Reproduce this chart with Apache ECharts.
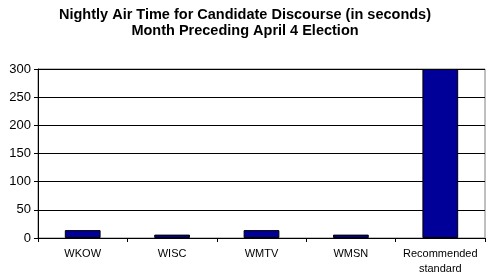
<!DOCTYPE html>
<html><head><meta charset="utf-8">
<script src="https://cdn.jsdelivr.net/npm/echarts@6/dist/echarts.min.js"></script>
<style>html,body{margin:0;padding:0;background:#fff}#c{width:490px;height:280px}</style>
</head><body><div id="c"></div>
<script>
const categories = ['WKOW', 'WISC', 'WMTV', 'WMSN', 'Recommended\nstandard'];
const airTime = [14, 6, 14, 6, 300];
const titleLines = ['Nightly Air Time for Candidate Discourse (in seconds)', 'Month Preceding April 4 Election'];

const chart = echarts.init(document.getElementById('c'));
chart.setOption({
  animation: false,
  title: {
    text: titleLines.join('\n'),
    left: 'center', top: 2,
    textStyle: {fontFamily: 'Liberation Sans, Arial', fontWeight: 'bold', fontSize: 14.5, lineHeight: 16, color: '#000'}
  },
  grid: {left: 38, right: 5, top: 69, bottom: 42, show: true, borderColor: '#808080', borderWidth: 1, backgroundColor: '#fff'},
  xAxis: {
    type: 'category', data: categories,
    axisLine: {lineStyle: {color: '#000'}},
    axisTick: {show: true, length: 4, lineStyle: {color: '#000'}},
    axisLabel: {interval: 0, fontFamily: 'Liberation Sans, Arial', fontSize: 11, color: '#000', margin: 8, lineHeight: 15}
  },
  yAxis: {
    type: 'value', min: 0, max: 300, interval: 50,
    axisLine: {show: true, lineStyle: {color: '#000'}},
    axisTick: {show: true, length: 4, lineStyle: {color: '#000'}},
    axisLabel: {fontFamily: 'Liberation Sans, Arial', fontSize: 13, color: '#000', margin: 7},
    splitLine: {lineStyle: {color: '#000'}}
  },
  series: [{
    type: 'bar', data: airTime, barWidth: '40%',
    itemStyle: {color: '#000099', borderColor: '#000', borderWidth: 1}
  }]
});
</script></body></html>
